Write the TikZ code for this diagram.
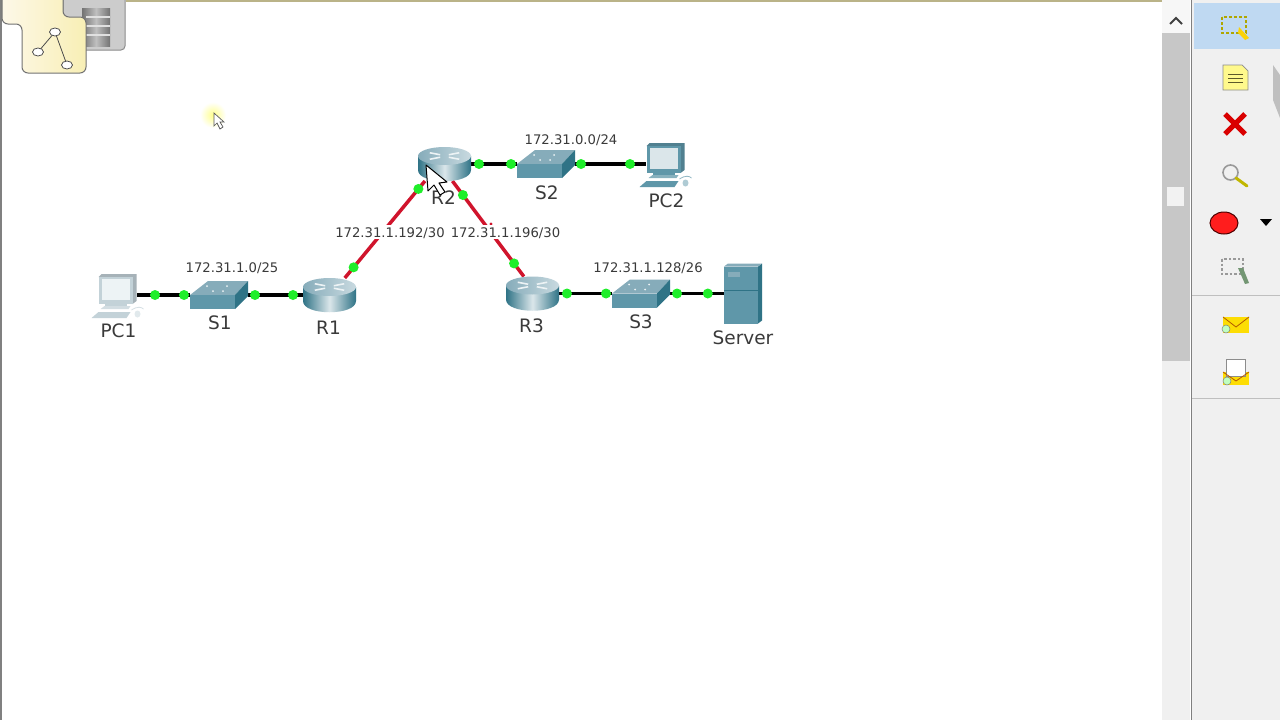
\documentclass[tikz,border=0pt]{standalone}
\usepackage{fontspec}
\setmainfont{DejaVu Sans}
\usetikzlibrary{positioning,calc}
\definecolor{tealtop}{HTML}{86ACBA}
\definecolor{tealfront}{HTML}{5F97A9}
\definecolor{tealside}{HTML}{2F7386}
\definecolor{pcpale}{HTML}{C3D2D8}
\definecolor{linkred}{HTML}{D0142C}
\definecolor{lampgreen}{HTML}{1FEE2A}
\definecolor{labelgrey}{HTML}{3A3A3A}
\definecolor{panelgrey}{HTML}{F0F0F0}
\definecolor{tableft}{HTML}{FDF8E8}
\definecolor{tabright}{HTML}{F8EFB5}
\tikzset{main base/.style={inner sep=0pt,outer sep=0pt}, }
\tikzset{main pc/.style={rectangle,main base,minimum width=39pt,minimum height=30pt}, }
\tikzset{main switch/.style={rectangle,main base,minimum width=58pt,minimum height=28pt}, }
\tikzset{main router/.style={rectangle,main base,minimum width=53pt,minimum height=34pt}, }
\tikzset{main server/.style={rectangle,main base,minimum width=38pt,minimum height=60pt}, }
\tikzset{main name/.style={main base,font=\fontsize{18.5}{20}\selectfont,text=labelgrey,text height=14pt,text depth=0pt}, }
\tikzset{main net/.style={main base,font=\fontsize{13.2}{15}\selectfont,text=labelgrey,text height=10pt,text depth=0pt}, }
\tikzset{linea/.style={line width=3.5pt,draw=black}}
\tikzset{linea2/.style={line width=3.5pt,draw=linkred}}
\tikzset{lamp/.style={circle,fill=lampgreen,inner sep=0pt,minimum size=10pt}, }
\tikzset{
  pics/router/.style={code={
    \path[left color=tealside,right color=tealside,middle color=white!70!tealtop]
      (-26.5,-8) -- (-26.5,6) .. controls (-26.5,21) and (26.5,21) .. (26.5,6) -- (26.5,-8) -- cycle;
    \path[left color=tealtop,right color=white!55!tealtop] (0,-8) ellipse[x radius=26.5,y radius=9];
    \foreach \a in {30,150,210,330}
      \draw[white!85!tealtop,line width=1.6pt] ($(0,-8)+(\a:5 and 2.5)$) -- ($(0,-8)+(\a:17 and 6.5)$);
  }},
  pics/switch/.style={code={
    \fill[tealtop] (-29,0) -- (-11,-14) -- (29,-14) -- (16,0) -- cycle;
    \fill[tealfront] (-29,0) rectangle (16,14);
    \fill[tealside] (16,0) -- (29,-14) -- (29,1) -- (16,14) -- cycle;
    \foreach \a/\b in {-12/-9,8/-9,-6/-4,4/-4}
      \fill[white!85!tealtop] (\a,\b) circle (1);
  }},
  pics/pc/.style 2 args={code={
    \fill[#1!85!black] (-19,-18) -- (-16,-21) -- (19,-21) -- (19,6) -- (15,9) -- (15,-18) -- cycle;
    \fill[#1] (-19,-18) rectangle (15,9);
    \fill[#2] (-16,-16) rectangle (12,5);
    \fill[#1] (-13,9) rectangle (9,14);
    \fill[#1!75!white] (-17,14) -- (-13,11) -- (13,11) -- (11,14) -- cycle;
    \fill[#1] (-26,23) -- (-19,17) -- (13,17) -- (9,23) -- cycle;
    \fill[#1!50!white] (20,19) ellipse[x radius=3,y radius=3.5];
    \draw[#1!70!white,line width=.8pt] (14,15) .. controls (20,11) and (24,12) .. (26,14);
  }},
  pics/server/.style={code={
    \fill[tealside] (15,-27) -- (19,-30) -- (19,27) -- (15,30) -- cycle;
    \fill[tealtop] (-19,-27) -- (-15,-30) -- (19,-30) -- (15,-27) -- cycle;
    \fill[tealfront] (-19,-27) rectangle (15,30);
    \fill[tealtop] (-15,-22) rectangle (-3,-17);
    \draw[tealside,line width=.5pt] (-19,-3) -- (15,-3);
  }},
}
\begin{document}
\begin{tikzpicture}[x=1pt,y=-1pt]
  \useasboundingbox (0,0) rectangle (1280,720);
  \fill[white] (0,0) rectangle (1280,720);
  % devices
  \node[main pc] (PC1) at (117.5,295) {};
  \node[main switch] (S1) [right=53pt of PC1] {};
  \node[main router] (R1) [right=55pt of S1] {};
  \node[main router] (R2) [above right=97pt and 62pt of R1] {};
  \node[main switch] (S2) [right=46pt of R2] {};
  \node[main pc] (PC2) [right=71pt of S2] {};
  \node[main router] (R3) [below right=95.5pt and 35pt of R2] {};
  \node[main switch] (S3) [right=53pt of R3] {};
  \node[main server] (Server) [right=54pt of S3] {};
  % links
  \foreach \x/\y/\p/\q in {PC1/S1/.34/.887,S1/R1/.127/.818,R2/S2/.174/.87,S2/PC2/.085/.775,R3/S3/.15/.887,S3/Server/.13/.70}
    \path[linea] (\x) -- node[lamp,pos=\p] (\x a) {} node[lamp,pos=\q] (\x b) {} (\y);
  \path[linea2] (R1.48) -- node[lamp,pos=.11] (R1a) {} node[lamp,pos=.918] (R1b) {} (R2.221);
  \path[linea2] (R2.-65) -- node[lamp,pos=.147] (R2a) {} node[lamp,pos=.863] (R2b) {} (R3.117);
  \fill[linkred] (491,224) circle (1.6);
  % names
  \node[main name] (namePC1) [below=13pt of PC1,xshift=1pt] {PC1};
  \node[main name] (nameS1) [below=6pt of S1,xshift=1pt] {S1};
  \node[main name] (nameR1) [below=8pt of R1,xshift=-1pt] {R1};
  \node[main name] (nameR2) [below=9pt of R2,xshift=-1pt] {R2};
  \node[main name] (nameS2) [below=7pt of S2,xshift=1pt] {S2};
  \node[main name] (namePC2) [below=14pt of PC2,xshift=1pt] {PC2};
  \node[main name] (nameR3) [below=7.5pt of R3,xshift=-1pt] {R3};
  \node[main name] (nameS3) [below=6.5pt of S3] {S3};
  \node[main name] (nameServer) [below=7pt of Server] {Server};
  % networks
  \node[main net] (net1) [above=9pt of S1,xshift=13pt] {172.31.1.0/25};
  \node[main net] (net2) [above=5.5pt of S2,xshift=25pt] {172.31.0.0/24};
  \node[main net] (net3) [above=7.5pt of S3,xshift=7pt] {172.31.1.128/26};
  \node[main net,fill=white,inner ysep=2pt] (net4) at (390,232) {172.31.1.192/30};
  \node[main net,fill=white,inner ysep=2pt] (net5) at (505.5,232) {172.31.1.196/30};
  % icons
  \foreach \x in {R1,R2,R3}
    \pic at (\x) {router};
  \foreach \x in {S1,S2,S3}
    \pic at (\x) {switch};
  \pic at (PC1) {pc={pcpale}{white!85!tealtop}};
  \pic at (PC2) {pc={tealfront}{white!70!tealtop}};
  \pic at (Server) {server};
  % cursors
  \draw[fill=white,line width=1pt,line join=round] (426,165) -- (428,191) -- (434,185) -- (440,195) -- (445,192) -- (439,183) -- (447,182) -- cycle;
  \shade[inner color=yellow!45,outer color=white] (213,115) circle (13);
  \draw[fill=white,draw=black!65,line width=.7pt] (214,113) -- (214,126) -- (217,123) -- (220,129) -- (223,127) -- (220,122) -- (224,122) -- cycle;
  % window frame
  \fill[black!50] (0,0) rectangle (2,720);
  \fill[tabright!75!black] (126,0) rectangle (1190,1.5);
  % tab
  \draw[fill=black!20,draw=black!45,line width=1pt,rounded corners=4pt] (63,-3) -- (63,50) -- (125,50) -- (125,-3);
  \shade[left color=black!55,right color=black!55,middle color=black!25] (82,8) rectangle (110,46);
  \foreach \b in {16,25,34}
    \fill[black!12] (86,\b) rectangle (110,\b+2);
  \draw[left color=tableft,right color=tabright,draw=black!55,line width=1pt,rounded corners=6pt] (2,-5) -- (2,24) -- (22,24) -- (22,73) -- (86,73) -- (86,17) -- (63,17) -- (63,-5);
  \draw[black!70,line width=.8pt] (55,32) -- (38,52) (55,32) -- (67,65);
  \foreach \a/\b in {55/32,38/52,67/65}
    \draw[fill=white,draw=black!70,line width=.8pt] (\a,\b) ellipse[x radius=5.5,y radius=4];
  % scroll bar
  \fill[black!22] (1162,33) rectangle (1190,361);
  \fill[panelgrey] (1162,361) rectangle (1190,720);
  \fill[black!3] (1162,0) rectangle (1190,33);
  \fill[black!5] (1167,187) rectangle (1184,206);
  \draw[black!75,line width=2pt] (1170,24) -- (1176,18) -- (1182,24);
  % tool panel
  \fill[panelgrey] (1192,0) rectangle (1280,720);
  \draw[black!50,line width=1pt] (1191.5,0) -- (1191.5,720);
  \definecolor{toolblue}{HTML}{BFD9F2}
  \fill[toolblue] (1194,3) rectangle (1280,49);
  \draw[black!25,line width=1pt] (1192,295) -- (1280,295) (1192,398) -- (1280,398);
  \fill[black!25] (1273,65) -- (1280,75) -- (1280,118) -- (1273,100) -- cycle;
  % tools
  \draw[olive!70!yellow,line width=1.4pt,dash pattern=on 3pt off 2pt] (1222,17) rectangle (1246,33);
  \fill[yellow!70!orange] (1239,27) -- (1249,38) -- (1245,40) -- (1238,33) -- cycle;
  \draw[fill=yellow!45!white,draw=black!45,line width=.7pt] (1223,65) -- (1242,65) -- (1248,71) -- (1248,90) -- (1223,90) -- cycle;
  \foreach \b in {74,78,82}
    \draw[black!45!olive,line width=.8pt] (1228,\b) -- (1243,\b);
  \draw[red!85!black,line width=5pt] (1225,114) -- (1245,134) (1245,114) -- (1225,134);
  \draw[black!40,line width=1.6pt] (1230.5,172.5) circle (7.5);
  \draw[olive!55!yellow,line width=3pt,line cap=round] (1236,178) -- (1247,186);
  \draw[fill=red!85!pink,draw=black!70!red,line width=1pt] (1224,223) ellipse[x radius=14,y radius=11];
  \fill[black] (1260,219) -- (1272,219) -- (1266,226) -- cycle;
  \draw[black!40,line width=1.2pt,dash pattern=on 2.5pt off 2pt] (1222,259) rectangle (1243,274);
  \fill[green!25!black!55] (1238,268) -- (1243,268) -- (1249,283) -- (1245,284) -- cycle;
  \fill[yellow!80!orange] (1223,317) rectangle (1249,333);
  \draw[orange!70!black,line width=.8pt] (1223,317) -- (1236,327) -- (1249,317);
  \draw[fill=green!25!white,draw=black!50,line width=.5pt] (1226,329) circle (4);
  \fill[yellow!80!orange] (1223,372) rectangle (1249,385);
  \draw[fill=white,draw=black!45,line width=.7pt] (1226,359) rectangle (1245,376);
  \draw[orange!70!black,line width=.8pt] (1223,372) -- (1236,381) -- (1249,372);
  \draw[fill=green!25!white,draw=black!50,line width=.5pt] (1227,381) circle (4);
\end{tikzpicture}
\end{document}
